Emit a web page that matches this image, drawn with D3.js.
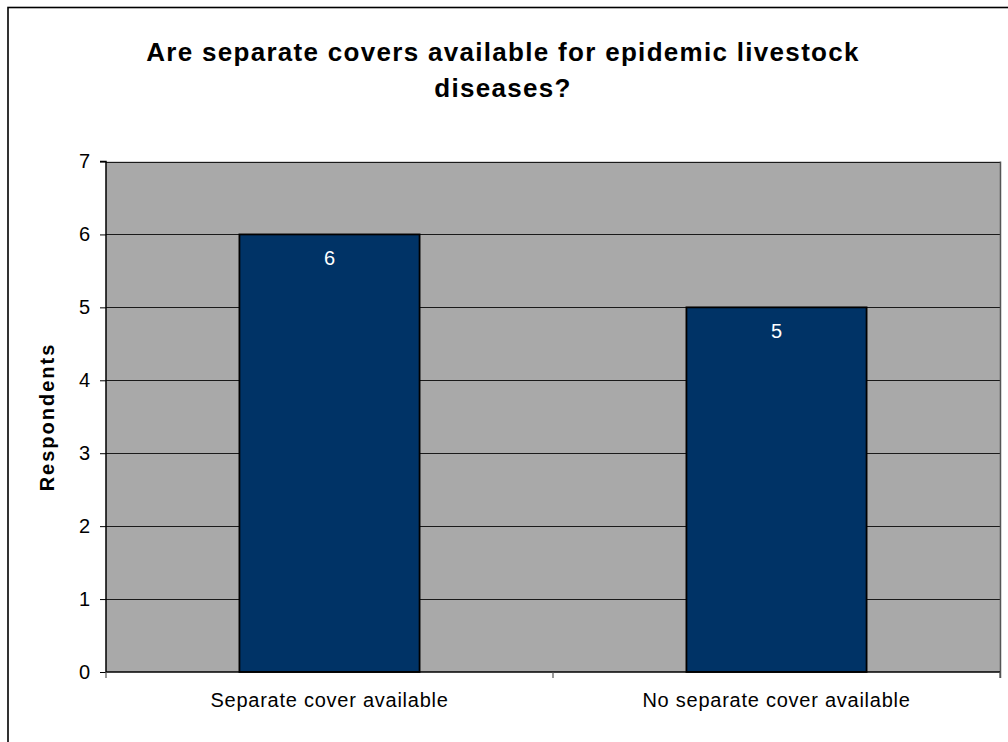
<!DOCTYPE html>
<html><head><meta charset="utf-8">
<script src="https://cdn.jsdelivr.net/npm/d3@7"></script>
<style>body{margin:0;background:#fff}svg{display:block;font-family:"Liberation Sans",Arial,sans-serif}</style>
</head><body><svg id="c" width="1008" height="742"></svg>
<script>
const categories = ["Separate cover available", "No separate cover available"];
const values = [6, 5];
const yTicks = [0, 1, 2, 3, 4, 5, 6, 7];
const titleLines = ["Are separate covers available for epidemic livestock", "diseases?"];
const yLabel = "Respondents";

const svg = d3.select("#c");
const L = 106, R = 1000, T = 161.5, B = 672;
svg.append("rect").attr("x", 8).attr("y", 7.5).attr("width", 1010).attr("height", 750)
  .attr("fill", "#fff").attr("stroke", "#000").attr("stroke-width", 1.6);

const x = d3.scaleBand().domain(categories).range([L, R]).paddingInner(0.597).paddingOuter(0.2985);
const y = d3.scaleLinear().domain([0, 7]).range([B, T]);

svg.append("rect").attr("x", L).attr("y", T).attr("width", R - L).attr("height", B - T).attr("fill", "#a9a9a9");

// gridlines
svg.append("g").selectAll("line").data(yTicks.filter(d => d > 0)).join("line")
  .attr("x1", L).attr("x2", R).attr("y1", d => Math.round(y(d)) + 0.5).attr("y2", d => Math.round(y(d)) + 0.5)
  .attr("stroke", "#1a1a1a").attr("stroke-width", 1);
// right border
svg.append("line").attr("x1", R + 0.5).attr("x2", R + 0.5).attr("y1", T).attr("y2", B + 6)
  .attr("stroke", "#555").attr("stroke-width", 1.5);

// bars
svg.append("g").selectAll("rect").data(values).join("rect")
  .attr("x", (d, i) => x(categories[i])).attr("width", x.bandwidth())
  .attr("y", d => y(d)).attr("height", d => B - y(d))
  .attr("fill", "#003366").attr("stroke", "#000").attr("stroke-width", 1.8);

svg.append("g").selectAll("text").data(values).join("text")
  .attr("x", (d, i) => x(categories[i]) + x.bandwidth() / 2).attr("y", d => y(d) + 31)
  .attr("text-anchor", "middle").attr("fill", "#fff").attr("font-size", 20).text(d => d);

// y axis
const ya = d3.axisLeft(y).tickValues(yTicks).tickSize(6).tickPadding(10).tickFormat(d3.format("d"));
const gy = svg.append("g").attr("transform", `translate(${L},0)`).call(ya);
gy.select(".domain").attr("stroke", "#000").attr("stroke-width", 1.5).attr("d", `M-6,${T}H0V${B}`);
gy.selectAll(".tick line").attr("stroke", "#000");
gy.selectAll(".tick text").attr("font-size", 20).attr("fill", "#000").attr("font-family", "Liberation Sans, Arial, sans-serif");

// x axis
const xa = d3.axisBottom(x).tickSize(0).tickPadding(0);
const gx = svg.append("g").attr("transform", `translate(0,${B})`).call(xa);
gx.select(".domain").attr("stroke", "#000").attr("stroke-width", 1.5).attr("d", `M${L},0H${R}`);
gx.selectAll(".tick text").attr("font-size", 20).attr("letter-spacing", 0.75).attr("fill", "#000").attr("dy", 0).attr("y", 35)
  .attr("font-family", "Liberation Sans, Arial, sans-serif");
// category separator ticks
const seps = [L, (x(categories[0]) + x.bandwidth() + x(categories[1])) / 2, R];
gx.append("g").selectAll("line").data(seps).join("line")
  .attr("x1", d => d).attr("x2", d => d).attr("y1", 0).attr("y2", 6).attr("stroke", "#555").attr("stroke-width", 1.2);

// title
svg.append("g").selectAll("text").data(titleLines).join("text")
  .attr("x", 503).attr("y", (d, i) => 61 + i * 36).attr("text-anchor", "middle")
  .attr("font-size", 26).attr("font-weight", "bold").attr("letter-spacing", 1.3).text(d => d);

svg.append("text").attr("transform", `translate(54,417) rotate(-90)`)
  .attr("text-anchor", "middle").attr("font-size", 20).attr("font-weight", "bold").attr("letter-spacing", 2).text(yLabel);
</script></body></html>
